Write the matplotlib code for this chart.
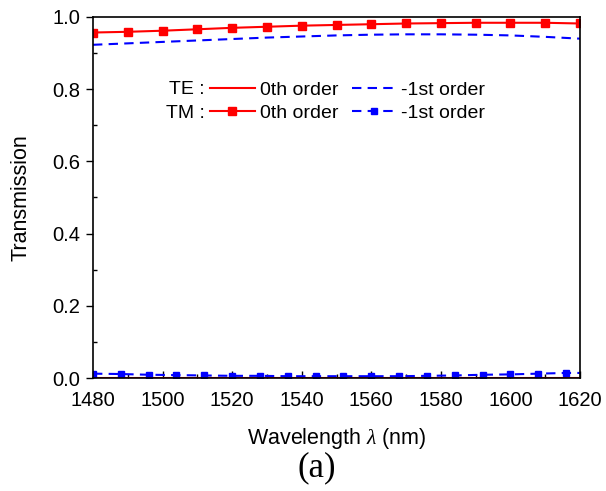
import matplotlib
matplotlib.use("Agg")
import matplotlib.pyplot as plt
from matplotlib.ticker import MultipleLocator
from matplotlib.lines import Line2D

# dados
wl_10 = [1480, 1490, 1500, 1510, 1520, 1530, 1540, 1550, 1560, 1570, 1580, 1590, 1600, 1610, 1620]
tm_0th = [0.957, 0.959, 0.962, 0.966, 0.970, 0.973, 0.976, 0.978, 0.980, 0.982, 0.983, 0.984, 0.984, 0.984, 0.982]
te_m1st = [0.923, 0.927, 0.931, 0.935, 0.939, 0.943, 0.946, 0.949, 0.951, 0.952, 0.952, 0.951, 0.949, 0.945, 0.940]
te_0th = [0.001, 0.001, 0.001, 0.001, 0.001, 0.001, 0.001, 0.001, 0.001, 0.001, 0.001, 0.001, 0.001, 0.001, 0.001]

wl_8 = [1480, 1488, 1496, 1504, 1512, 1520, 1528, 1536, 1544, 1552, 1560, 1568, 1576, 1584, 1592, 1600, 1608, 1616, 1620]
tm_m1st = [0.012, 0.011, 0.009, 0.008, 0.007, 0.006, 0.006, 0.005, 0.005, 0.005, 0.005, 0.005, 0.006, 0.007, 0.009, 0.010, 0.012, 0.014, 0.014]

legenda_linhas = ["0th order", "0th order", "-1st order", "-1st order"]

plt.rcParams["font.family"] = ["Liberation Sans", "DejaVu Sans"]
plt.rcParams["mathtext.fontset"] = "custom"
plt.rcParams["mathtext.it"] = "Liberation Serif:italic"
plt.rcParams.update({"font.size": 14.5})

vermelho = "#ff0000"
azul = "#0000ff"
tracos = (4.5, 3)

fig = plt.figure(figsize=(6.06, 4.91), dpi=100)
ax = fig.add_axes([93 / 606, 1 - 378 / 491, 487 / 606, 361 / 491])

ax.plot(wl_10, te_0th, color=vermelho, lw=1.5)
ax.plot(wl_10, tm_0th, color=vermelho, lw=1.5, marker="s", ms=6)
ax.plot(wl_10, te_m1st, color=azul, lw=1.5, dashes=tracos)
ax.plot(wl_8, tm_m1st, color=azul, lw=1.5, dashes=tracos, marker="s", ms=4.5,
        markevery=list(range(len(wl_8) - 1)))

ax.set_xlim(1480, 1620)
ax.set_ylim(0.0, 1.0)
ax.xaxis.set_major_locator(MultipleLocator(20))
ax.xaxis.set_minor_locator(MultipleLocator(10))
ax.yaxis.set_major_locator(MultipleLocator(0.2))
ax.yaxis.set_minor_locator(MultipleLocator(0.1))
ax.yaxis.set_major_formatter(plt.FormatStrFormatter("%.1f"))
ax.tick_params(axis="x", which="major", direction="in", length=5, width=1, pad=9)
ax.tick_params(axis="x", which="minor", direction="in", length=3, width=1)
ax.tick_params(axis="y", which="major", direction="out", length=5, width=1, pad=4)
ax.tick_params(axis="y", which="minor", direction="in", length=3, width=1)
for s in ax.spines.values():
    s.set_linewidth(1.2)

ax.set_xlabel(r"Wavelength $\lambda$ (nm)", fontsize=15.5, labelpad=12)
ax.set_ylabel("Transmission", fontsize=15.5, labelpad=15)

## Legenda em duas linhas (TE / TM)
handles = [
    Line2D([], [], color=vermelho, lw=1.5),
    Line2D([], [], color=vermelho, lw=1.5, marker="s", ms=6),
    Line2D([], [], color=azul, lw=1.5, dashes=tracos),
    Line2D([], [], color=azul, lw=1.5, dashes=tracos, marker="s", ms=4.5),
]
ax.legend(handles, legenda_linhas, ncol=2, loc="upper left",
          bbox_to_anchor=((210 - 93) / 487, (378 - 81) / 361),
          frameon=False, borderpad=0, borderaxespad=0, fontsize=14,
          handlelength=2.3, handletextpad=0.25, columnspacing=0.7, labelspacing=0.3)
ax.text((205 - 93) / 487, (378 - 90) / 361, "TE :", transform=ax.transAxes,
        ha="right", va="center", fontsize=14)
ax.text((205 - 93) / 487, (378 - 113) / 361, "TM :", transform=ax.transAxes,
        ha="right", va="center", fontsize=14)

fig.text(317 / 606, 1 - 468 / 491, "(a)", ha="center", va="center",
         fontsize=25, family="Liberation Serif")

fig.savefig("out.png", dpi=100)
